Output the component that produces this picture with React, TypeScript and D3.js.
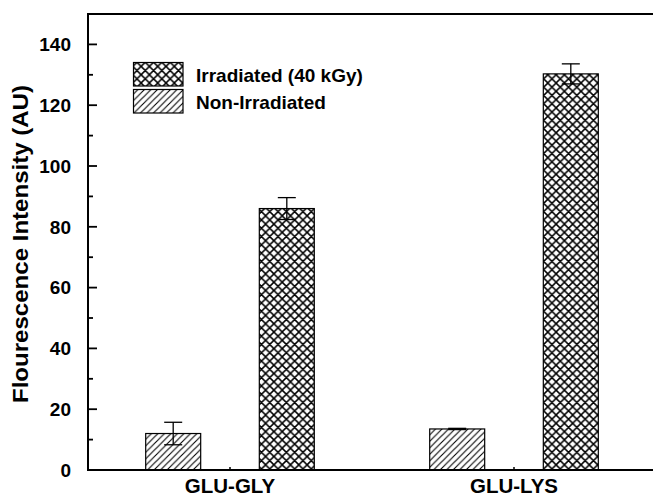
import React from "react";
import * as d3 from "d3";

const categories = ["GLU-GLY", "GLU-LYS"];
const seriesNames = ["Non-Irradiated", "Irradiated (40 kGy)"];
const nonIrradiated = [12.0, 13.5];
const nonIrradiatedErr = [3.7, 0.2];
const irradiated = [86.0, 130.3];
const irradiatedErr = [3.6, 3.3];
const yTicks = [0, 20, 40, 60, 80, 100, 120, 140];
const yMinorTicks = [10, 30, 50, 70, 90, 110, 130];
const yTitle = "Flourescence Intensity (AU)";

const W = 653;
const H = 497;
const FONT = "'Liberation Sans', Arial, Helvetica, sans-serif";

export default function App() {
  const left = 88;
  const top = 14;
  const bottom = 470;
  const right = 656;

  const y = d3.scaleLinear().domain([0, 150]).range([bottom, top]);
  const x0 = d3.scaleBand().domain(categories).range([left, right]);
  const x1 = d3
    .scaleBand()
    .domain(seriesNames)
    .range([57.7, 226.3])
    .paddingInner(0.516)
    .paddingOuter(0);

  const patternFor = (s: string) =>
    s === seriesNames[0] ? "url(#hatch)" : "url(#cross)";

  const rows = categories.flatMap((c, i) => [
    { c, s: seriesNames[0], v: nonIrradiated[i], e: nonIrradiatedErr[i] },
    { c, s: seriesNames[1], v: irradiated[i], e: irradiatedErr[i] },
  ]);

  const hw = 6.5;
  const cw = 8.3;

  return (
    <svg
      width={W}
      height={H}
      style={{ position: "absolute", left: 0, top: 0, background: "#fff" }}
      fontFamily={FONT}
    >
      <defs>
        <pattern id="hatch" patternUnits="userSpaceOnUse" width={hw} height={hw}>
          <rect width={hw} height={hw} fill="#fff" />
          <path
            d={`M${-1},${1} L${1},${-1} M0,${hw} L${hw},0 M${hw - 1},${hw + 1} L${hw + 1},${hw - 1}`}
            stroke="#000"
            strokeWidth={1.1}
          />
        </pattern>
        <pattern id="cross" patternUnits="userSpaceOnUse" width={cw} height={cw}>
          <rect width={cw} height={cw} fill="#fff" />
          <path
            d={`M${-1},${1} L${1},${-1} M0,${cw} L${cw},0 M${cw - 1},${cw + 1} L${cw + 1},${cw - 1} M${-1},${cw - 1} L${1},${cw + 1} M0,0 L${cw},${cw} M${cw - 1},${-1} L${cw + 1},${1}`}
            stroke="#000"
            strokeWidth={1.5}
          />
        </pattern>
      </defs>

      {/* bars */}
      {rows.map((r, i) => {
        const bx = (x0(r.c) as number) + (x1(r.s) as number);
        const bw = x1.bandwidth();
        return (
          <rect
            key={"b" + i}
            x={bx}
            y={y(r.v)}
            width={bw}
            height={y(0) - y(r.v)}
            fill={patternFor(r.s)}
            stroke="#000"
            strokeWidth={1.2}
          />
        );
      })}

      {/* error bars */}
      {rows.map((r, i) => {
        const cx = (x0(r.c) as number) + (x1(r.s) as number) + x1.bandwidth() / 2;
        const yt = y(r.v + r.e);
        const yb = y(r.v - r.e);
        return (
          <g key={"e" + i} stroke="#000" strokeWidth={1.3}>
            <line x1={cx} x2={cx} y1={yt} y2={yb} />
            <line x1={cx - 9} x2={cx + 9} y1={yt} y2={yt} />
            <line x1={cx - 9} x2={cx + 9} y1={yb} y2={yb} />
          </g>
        );
      })}

      {/* frame / axes */}
      <line x1={left} x2={W} y1={top} y2={top} stroke="#000" strokeWidth={2} />
      <line x1={left} x2={left} y1={top - 1} y2={bottom + 1} stroke="#000" strokeWidth={2} />
      <line x1={left - 1} x2={W} y1={bottom} y2={bottom} stroke="#000" strokeWidth={2} />

      {/* y ticks */}
      {yTicks.map((t) => (
        <g key={"yt" + t}>
          <line x1={left} x2={left + 9} y1={y(t)} y2={y(t)} stroke="#000" strokeWidth={1.8} />
          <text
            x={71}
            y={y(t)}
            dy="0.36em"
            textAnchor="end"
            fontSize={19}
            fontWeight="bold"
          >
            {t}
          </text>
        </g>
      ))}
      {yMinorTicks.map((t) => (
        <line
          key={"ym" + t}
          x1={left}
          x2={left + 5}
          y1={y(t)}
          y2={y(t)}
          stroke="#000"
          strokeWidth={1.8}
        />
      ))}

      {/* x ticks and labels */}
      {categories.map((c) => {
        const cx = (x0(c) as number) + x0.bandwidth() / 2;
        return (
          <g key={"xc" + c}>
            <line x1={cx} x2={cx} y1={bottom} y2={bottom - 3} stroke="#000" strokeWidth={1.5} />
            <text
              x={cx}
              y={492.5}
              textAnchor="middle"
              fontSize={20.5}
              fontWeight="bold"
            >
              {c}
            </text>
          </g>
        );
      })}

      {/* y title */}
      <text
        transform={`translate(28,244) rotate(-90)`}
        textAnchor="middle"
        fontSize={21.5}
        fontWeight="bold"
        textLength={318}
        lengthAdjust="spacingAndGlyphs"
      >
        {yTitle}
      </text>

      {/* legend */}
      {[seriesNames[1], seriesNames[0]].map((s, i) => {
        const ly = 62.5 + i * 27;
        return (
          <g key={"lg" + s}>
            <rect
              x={133.5}
              y={ly}
              width={49.5}
              height={23.5}
              fill={patternFor(s)}
              stroke="#000"
              strokeWidth={1.2}
            />
            <text x={196} y={ly + 19} fontSize={19} fontWeight="bold">
              {s}
            </text>
          </g>
        );
      })}
    </svg>
  );
}
